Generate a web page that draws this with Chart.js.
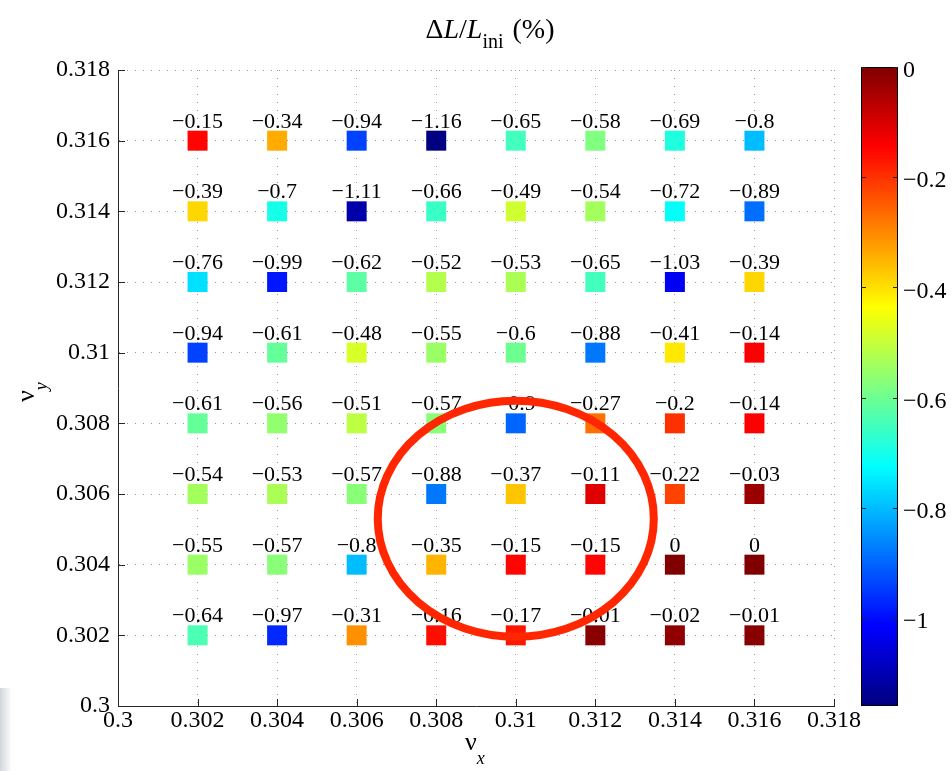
<!DOCTYPE html>
<html><head><meta charset="utf-8">
<script src="https://cdn.jsdelivr.net/npm/chart.js@4/dist/chart.umd.min.js"></script>
<style>
html,body{margin:0;padding:0;background:#fff;width:952px;height:771px;overflow:hidden}
#main{position:absolute;left:0;top:0}
#cb{position:absolute;left:840px;top:40px}
#edge{position:absolute;left:0;top:688px;width:12px;height:83px;background:linear-gradient(to right,#d3d7dc,#ffffff)}
</style></head><body>
<div id="edge"></div>
<canvas id="main" width="952" height="771"></canvas>
<canvas id="cb" width="112" height="700"></canvas>
<script>
// tunes (columns) and rows
const nuX = [0.302, 0.304, 0.306, 0.308, 0.310, 0.312, 0.314, 0.316];
const nuY = [0.316, 0.314, 0.312, 0.310, 0.308, 0.306, 0.304, 0.302];
// luminosity loss dL/Lini (%) per row (nu_y), columns along nu_x
const dL_y0316 = [-0.15, -0.34, -0.94, -1.16, -0.65, -0.58, -0.69, -0.8];
const dL_y0314 = [-0.39, -0.7, -1.11, -0.66, -0.49, -0.54, -0.72, -0.89];
const dL_y0312 = [-0.76, -0.99, -0.62, -0.52, -0.53, -0.65, -1.03, -0.39];
const dL_y0310 = [-0.94, -0.61, -0.48, -0.55, -0.6, -0.88, -0.41, -0.14];
const dL_y0308 = [-0.61, -0.56, -0.51, -0.57, -0.9, -0.27, -0.2, -0.14];
const dL_y0306 = [-0.54, -0.53, -0.57, -0.88, -0.37, -0.11, -0.22, -0.03];
const dL_y0304 = [-0.55, -0.57, -0.8, -0.35, -0.15, -0.15, 0, 0];
const dL_y0302 = [-0.64, -0.97, -0.31, -0.16, -0.17, -0.01, -0.02, -0.01];
// axis ticks
const xTickValues = [0.3, 0.302, 0.304, 0.306, 0.308, 0.31, 0.312, 0.314, 0.316, 0.318];
const xTickLabels = ['0.3','0.302','0.304','0.306','0.308','0.31','0.312','0.314','0.316','0.318'];
const yTickValues = [0.3, 0.302, 0.304, 0.306, 0.308, 0.31, 0.312, 0.314, 0.316, 0.318];
const yTickLabels = ['0.3','0.302','0.304','0.306','0.308','0.31','0.312','0.314','0.316','0.318'];
// colour bar
const cbMin = -1.16, cbMax = 0;
const cbTickValues = [0, -0.2, -0.4, -0.6, -0.8, -1];
const cbTickLabels = ['0','\u22120.2','\u22120.4','\u22120.6','\u22120.8','\u22121'];
// highlighted region (ellipse, data units)
const highlight = {x: 0.31, y: 0.3053, rx: 0.00347, ry: 0.00334};

const rows = [dL_y0316, dL_y0314, dL_y0312, dL_y0310, dL_y0308, dL_y0306, dL_y0304, dL_y0302];
const points = [];
nuY.forEach((yv, i) => nuX.forEach((xv, j) => points.push({x: xv, y: yv, v: rows[i][j]})));

const SERIF = '"Liberation Serif", "Times New Roman", serif';
function jetRGB(t){
  const c = z => Math.round(255 * Math.max(0, Math.min(1, z)));
  return [c(1.5 - Math.abs(4*t - 3)), c(1.5 - Math.abs(4*t - 2)), c(1.5 - Math.abs(4*t - 1))];
}
function jet(v){
  const t = (v - cbMin) / (cbMax - cbMin);
  const [r,g,b] = jetRGB(t);
  return `rgb(${r},${g},${b})`;
}
function fmt(v){
  if (v === 0) return '0';
  return (v < 0 ? '\u2212' : '') + String(Math.abs(v));
}

const overlay = {
  id: 'overlay',
  afterDatasetsDraw(chart){
    const ctx = chart.ctx, meta = chart.getDatasetMeta(0);
    const xs = chart.scales.x, ys = chart.scales.y, a = chart.chartArea;
    ctx.save();
    // value labels
    ctx.font = '22px ' + SERIF; ctx.fillStyle = '#000';
    ctx.textAlign = 'center'; ctx.textBaseline = 'alphabetic';
    meta.data.forEach((el, i) => ctx.fillText(fmt(points[i].v), el.x, el.y - 13));
    // inward ticks
    ctx.strokeStyle = '#262626'; ctx.lineWidth = 1;
    ctx.beginPath();
    yTickValues.forEach(v => { const p = Math.round(ys.getPixelForValue(v)) + 0.5; ctx.moveTo(a.left, p); ctx.lineTo(a.left + 7, p); });
    xTickValues.forEach(v => { const p = Math.round(xs.getPixelForValue(v)) + 0.5; ctx.moveTo(p, a.bottom); ctx.lineTo(p, a.bottom - 7); });
    ctx.stroke();
    // highlight ellipse
    const cx = xs.getPixelForValue(highlight.x), cy = ys.getPixelForValue(highlight.y);
    const rx = Math.abs(xs.getPixelForValue(highlight.x + highlight.rx) - cx);
    const ry = Math.abs(ys.getPixelForValue(highlight.y + highlight.ry) - cy);
    ctx.beginPath(); ctx.ellipse(cx, cy, rx, ry, 0, 0, Math.PI * 2);
    ctx.strokeStyle = 'rgb(255,38,0)'; ctx.lineWidth = 8; ctx.stroke();
    // title: ΔL/L_ini (%)
    const big = '28px ' + SERIF, bigI = 'italic 28px ' + SERIF, sub = '20px ' + SERIF;
    const parts = [['\u0394', big, 0, 0], ['L', bigI, 0, 0], ['/', big, 0, 0], ['L', bigI, 0, 0], ['ini', sub, 10, 0], ['(%)', big, 0, 9]];
    let w = 0; parts.forEach(p => { ctx.font = p[1]; w += ctx.measureText(p[0]).width + p[3]; });
    let x = 490 - w / 2;
    ctx.textAlign = 'left'; ctx.fillStyle = '#000';
    parts.forEach(p => { ctx.font = p[1]; x += p[3]; ctx.fillText(p[0], x, 38 + p[2]); x += ctx.measureText(p[0]).width; });
    // x axis title: nu_x
    ctx.font = '26px ' + SERIF; ctx.fillText('\u03bd', 465, 750);
    let nw = ctx.measureText('\u03bd').width;
    ctx.font = 'italic 18px ' + SERIF; ctx.fillText('x', 465 + nw, 764);
    // y axis title: nu_y (rotated)
    ctx.translate(34, 402); ctx.rotate(-Math.PI / 2);
    ctx.font = '26px ' + SERIF; ctx.fillText('\u03bd', 0, 0);
    ctx.font = 'italic 18px ' + SERIF; ctx.fillText('y', nw, 13);
    ctx.restore();
  }
};

const tickFont = {family: SERIF, size: 24};
new Chart(document.getElementById('main'), {
  type: 'scatter',
  data: {datasets: [{
    data: points,
    pointStyle: 'rect',
    pointRadius: 14.14,
    pointHoverRadius: 14.14,
    borderWidth: 0,
    backgroundColor: c => jet(c.raw.v)
  }]},
  options: {
    responsive: false, animation: false,
    events: [],
    layout: {padding: {top: 70, right: 118, bottom: 0, left: 0}},
    plugins: {legend: {display: false}, tooltip: {enabled: false}, title: {display: false}},
    scales: {
      x: {
        type: 'linear', min: 0.3, max: 0.318,
        afterBuildTicks: s => { s.ticks = xTickValues.map(v => ({value: v})); },
        afterFit: s => { s.height = 65; },
        ticks: {callback: (v, i) => xTickLabels[i], font: tickFont, color: '#000', padding: 0, maxRotation: 0, autoSkip: false},
        grid: {color: '#9a9a9a', lineWidth: 1, drawTicks: false},
        border: {display: true, color: '#262626', width: 1, dash: [1, 7]}
      },
      y: {
        type: 'linear', min: 0.3, max: 0.318,
        afterBuildTicks: s => { s.ticks = yTickValues.map(v => ({value: v})); },
        afterFit: s => { s.width = 118; },
        ticks: {callback: (v, i) => yTickLabels[i], font: tickFont, color: '#000', padding: 8, autoSkip: false},
        grid: {color: '#9a9a9a', lineWidth: 1, drawTicks: false},
        border: {display: true, color: '#262626', width: 1, dash: [1, 7]}
      }
    }
  },
  plugins: [overlay]
});

const cbPlugin = {
  id: 'cbar',
  beforeDatasetsDraw(chart){
    const ctx = chart.ctx, a = chart.chartArea, ys = chart.scales.y;
    const yTop = ys.getPixelForValue(cbMax), yBot = ys.getPixelForValue(cbMin);
    const g = ctx.createLinearGradient(0, yBot, 0, yTop);
    for (let k = 0; k <= 64; k++) { const [r,gg,b] = jetRGB(k / 64); g.addColorStop(k / 64, `rgb(${r},${gg},${b})`); }
    ctx.save();
    ctx.fillStyle = g; ctx.fillRect(a.left, yTop, a.right - a.left, yBot - yTop);
    ctx.strokeStyle = '#000'; ctx.lineWidth = 1;
    ctx.strokeRect(a.left + 0.5, yTop + 0.5, a.right - a.left - 1, yBot - yTop - 1);
    ctx.strokeStyle = '#222';
    ctx.beginPath();
    cbTickValues.forEach(v => { const p = Math.round(ys.getPixelForValue(v)) + 0.5; ctx.moveTo(a.left, p); ctx.lineTo(a.left + 5, p); ctx.moveTo(a.right, p); ctx.lineTo(a.right - 5, p); });
    ctx.stroke();
    ctx.restore();
  }
};
new Chart(document.getElementById('cb'), {
  type: 'scatter',
  data: {datasets: [{data: []}]},
  options: {
    responsive: false, animation: false, events: [],
    layout: {padding: {top: 27, right: 0, bottom: 34, left: 21}},
    plugins: {legend: {display: false}, tooltip: {enabled: false}},
    scales: {
      x: {display: false, min: 0, max: 1},
      y: {
        position: 'right', min: cbMin, max: cbMax,
        afterBuildTicks: s => { s.ticks = cbTickValues.map(v => ({value: v})); },
        afterFit: s => { s.width = 54; },
        ticks: {callback: (v, i) => cbTickLabels[i], font: tickFont, color: '#000', padding: 5, labelOffset: 4},
        grid: {display: false, drawTicks: false},
        border: {display: false}
      }
    }
  },
  plugins: [cbPlugin]
});
</script>
</body></html>
